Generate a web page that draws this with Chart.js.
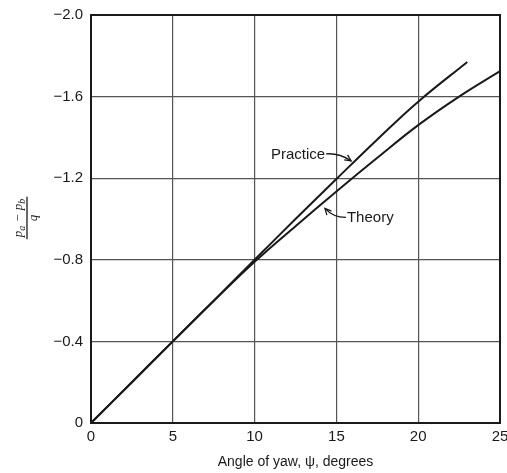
<!DOCTYPE html>
<html>
<head>
<meta charset="utf-8">
<script src="https://cdn.jsdelivr.net/npm/chart.js@4.4.1/dist/chart.umd.min.js"></script>
<style>
html,body{margin:0;padding:0;background:#fff;}
#wrap{width:507px;height:473px;position:relative;}
</style>
</head>
<body>
<div id="wrap"><canvas id="c" width="507" height="473"></canvas></div>
<script>
// ---- data ----
const anglePractice = [0, 2.5, 5, 7.5, 10, 12.5, 15, 17.5, 20, 23];
const practice      = [0, -0.2, -0.4, -0.6, -0.8, -1.0, -1.196, -1.39, -1.575, -1.77];
const angleTheory   = [0, 2.5, 5, 7.5, 10, 12.5, 15, 17.5, 20, 22.5, 25];
const theory        = [0, -0.2, -0.4, -0.598, -0.79, -0.965, -1.135, -1.30, -1.46, -1.60, -1.725];
const xTicks = [0, 5, 10, 15, 20, 25];
const yTicks = [0, -0.4, -0.8, -1.2, -1.6, -2.0];
const yTickLabels = ['0', '\u22120.4', '\u22120.8', '\u22121.2', '\u22121.6', '\u22122.0'];
const xTitle = 'Angle of yaw, \u03C8, degrees';
const labelPractice = { text: 'Practice', x: 15.9, y: -1.285 };
const labelTheory   = { text: 'Theory',   x: 14.3, y: -1.052 };

const FONT = '"Liberation Sans", Arial, sans-serif';
const INK = '#1a1a1a';

function pts(xs, ys) { return xs.map((x, i) => ({ x: x, y: ys[i] })); }

function arrowTo(ctx, sx, sy, cx, cy, tx, ty) {
  ctx.beginPath();
  ctx.moveTo(sx, sy);
  ctx.quadraticCurveTo(cx, cy, tx, ty);
  ctx.stroke();
  const a = Math.atan2(ty - cy, tx - cx);
  const L = 7, s = 0.45;
  ctx.beginPath();
  ctx.moveTo(tx - L * Math.cos(a - s), ty - L * Math.sin(a - s));
  ctx.lineTo(tx, ty);
  ctx.lineTo(tx - L * Math.cos(a + s), ty - L * Math.sin(a + s));
  ctx.stroke();
}

const SERIF = '"Liberation Serif", "Times New Roman", serif';
const decor = {
  id: 'decor',
  afterDatasetsDraw(chart) {
    const ctx = chart.ctx, a = chart.chartArea;
    const xs = chart.scales.x, ys = chart.scales.y;
    ctx.save();
    // frame
    ctx.strokeStyle = INK;
    ctx.lineWidth = 2;
    ctx.strokeRect(a.left, a.top, a.right - a.left, a.bottom - a.top);
    // annotations
    ctx.fillStyle = INK;
    ctx.lineWidth = 1.3;
    ctx.font = '15px ' + FONT;
    ctx.textBaseline = 'middle';
    let tx = xs.getPixelForValue(labelPractice.x), ty = ys.getPixelForValue(labelPractice.y);
    ctx.textAlign = 'right';
    ctx.fillText(labelPractice.text, tx - 26, ty - 6);
    arrowTo(ctx, tx - 25, ty - 7, tx - 12, ty - 8, tx, ty);
    tx = xs.getPixelForValue(labelTheory.x); ty = ys.getPixelForValue(labelTheory.y);
    ctx.textAlign = 'left';
    ctx.fillText(labelTheory.text, tx + 22, ty + 9);
    arrowTo(ctx, tx + 21, ty + 9, tx + 8, ty + 9, tx, ty);
    // y axis title: (p_a - p_b) / q, rotated
    ctx.translate(27, 218);
    ctx.rotate(-Math.PI / 2);
    ctx.textBaseline = 'alphabetic';
    const big = 'italic 13px ' + SERIF, small = 'italic 10px ' + SERIF;
    const parts = [['p', 0], ['a', 1], [' \u2212 ', 0], ['p', 0], ['b', 1]];
    let w = 0;
    parts.forEach(p => { ctx.font = p[1] ? small : big; w += ctx.measureText(p[0]).width; });
    let x0 = -w / 2;
    ctx.textAlign = 'left';
    parts.forEach(p => {
      ctx.font = p[1] ? small : big;
      ctx.fillText(p[0], x0, p[1] ? -2 : -5);
      x0 += ctx.measureText(p[0]).width;
    });
    ctx.lineWidth = 1.3;
    ctx.beginPath();
    ctx.moveTo(-w / 2 - 2, 0);
    ctx.lineTo(w / 2 + 2, 0);
    ctx.stroke();
    ctx.font = big;
    ctx.textAlign = 'center';
    ctx.fillText('q', 0, 10);
    ctx.restore();
  }
};

new Chart(document.getElementById('c'), {
  type: 'scatter',
  data: {
    datasets: [
      { label: 'Practice', data: pts(anglePractice, practice), showLine: true, borderColor: INK, borderWidth: 2, pointRadius: 0, tension: 0.4, fill: false },
      { label: 'Theory', data: pts(angleTheory, theory), showLine: true, borderColor: INK, borderWidth: 2, pointRadius: 0, tension: 0.4, fill: false }
    ]
  },
  options: {
    responsive: false,
    animation: false,
    devicePixelRatio: 1,
    layout: { padding: { left: 0, right: 7, top: 15, bottom: 0 } },
    plugins: { legend: { display: false }, tooltip: { enabled: false } },
    scales: {
      x: {
        type: 'linear', min: 0, max: 25,
        afterBuildTicks: s => { s.ticks = xTicks.map(v => ({ value: v })); },
        ticks: { color: INK, font: { family: FONT, size: 15 }, padding: 5, maxRotation: 0 },
        grid: { color: '#555', lineWidth: 1.2, drawTicks: false },
        border: { display: false },
        title: { display: true, text: xTitle, color: INK, font: { family: FONT, size: 14 }, padding: { top: 4, bottom: 2 } },
        afterFit: s => { s.height = 50; s.paddingLeft = 0; s.paddingRight = 0; }
      },
      y: {
        type: 'linear', min: -2.0, max: 0, reverse: true,
        afterBuildTicks: s => { s.ticks = yTicks.map(v => ({ value: v })); },
        ticks: { color: INK, font: { family: FONT, size: 15 }, padding: 8,
          callback: v => { const i = yTicks.findIndex(t => Math.abs(t - v) < 1e-9); return i >= 0 ? yTickLabels[i] : ''; } },
        grid: { color: '#555', lineWidth: 1.2, drawTicks: false },
        border: { display: false },
        afterFit: s => { s.width = 91; s.paddingTop = 0; s.paddingBottom = 0; }
      }
    }
  },
  plugins: [decor]
});
</script>
</body>
</html>
